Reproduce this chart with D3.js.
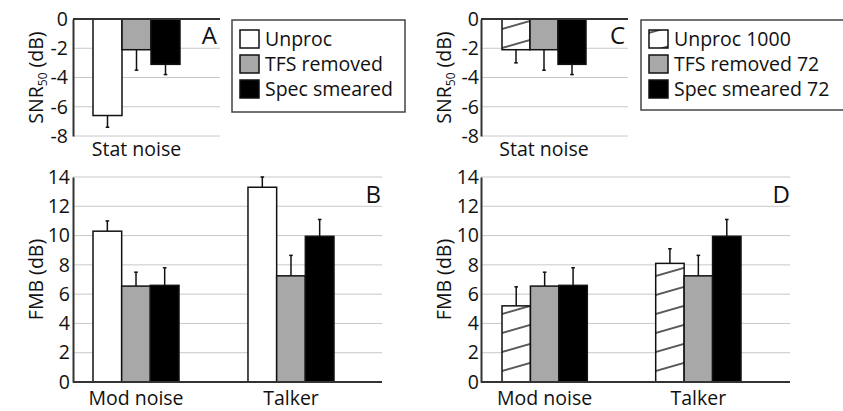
<!DOCTYPE html>
<html><head><meta charset="utf-8">
<script src="https://cdn.jsdelivr.net/npm/d3@7"></script>
<style>
body{margin:0;background:#fff;}
text{font-family:"Open Sans","Noto Sans",sans-serif;fill:#111;}
</style></head>
<body>
<svg id="c" width="843" height="411"></svg>
<script>
// ---- data ----
const seriesAB = ["Unproc", "TFS removed", "Spec smeared"];
const seriesCD = ["Unproc 1000", "TFS removed 72", "Spec smeared 72"];
const topCategories = ["Stat noise"];
const bottomCategories = ["Mod noise", "Talker"];
const snrTicks = [0, -2, -4, -6, -8];
const fmbTicks = [0, 2, 4, 6, 8, 10, 12, 14];

const snrA = [-6.6, -2.1, -3.1];
const snrAErr = [0.8, 1.4, 0.7];
const snrC = [-2.1, -2.1, -3.1];
const snrCErr = [0.9, 1.4, 0.7];

const fmbBMod = [10.3, 6.55, 6.6];
const fmbBModErr = [0.7, 0.95, 1.2];
const fmbBTalker = [13.3, 7.25, 9.95];
const fmbBTalkerErr = [0.7, 1.4, 1.15];

const fmbDMod = [5.2, 6.55, 6.6];
const fmbDModErr = [1.3, 0.95, 1.2];
const fmbDTalker = [8.1, 7.25, 9.95];
const fmbDTalkerErr = [1.0, 1.4, 1.15];

// ---- drawing ----
const svg = d3.select("#c");
const ink = "#111";
const fs = 19.5;
const fills = ["#ffffff", "#a8a8a8", "#000000"];
const defs = svg.append("defs");
const pat = defs.append("pattern").attr("id", "hatch").attr("patternUnits", "userSpaceOnUse")
  .attr("width", 40).attr("height", 19).attr("patternTransform", "skewY(-16)");
pat.append("rect").attr("width", 40).attr("height", 19).attr("fill", "#fff");
pat.append("line").attr("x1", 0).attr("x2", 40).attr("y1", 10).attr("y2", 10)
  .attr("stroke", "#222").attr("stroke-width", 1.3);

function fillFor(i, hatched) { return (i === 0 && hatched) ? "url(#hatch)" : fills[i]; }

function panel(opt) {
  const g = svg.append("g");
  const y = d3.scaleLinear().domain(opt.domain).range(opt.yRange);
  const x0 = d3.scaleBand().domain(opt.categories).range(opt.groupRange).paddingInner(opt.padInner || 0).paddingOuter(0);
  const x1 = d3.scaleBand().domain([0, 1, 2]).range([0, x0.bandwidth()]);
  // gridlines
  g.selectAll(".grid").data(opt.ticks.filter(t => t !== 0)).join("line")
    .attr("x1", opt.xLeft).attr("x2", opt.xRight)
    .attr("y1", d => y(d)).attr("y2", d => y(d))
    .attr("stroke", "#c8c8c8").attr("stroke-width", 1);
  // bars
  opt.categories.forEach((cat, ci) => {
    const vals = opt.values[ci], errs = opt.errors[ci];
    const gg = g.append("g").attr("transform", `translate(${x0(cat)},0)`);
    vals.forEach((v, i) => {
      const top = Math.min(y(v), y(0)), h = Math.abs(y(v) - y(0));
      const cx = x1(i) + x1.bandwidth() / 2;
      const ye = y(v + Math.sign(v) * errs[i]);
      gg.append("line").attr("x1", cx).attr("x2", cx).attr("y1", y(v)).attr("y2", ye)
        .attr("stroke", ink).attr("stroke-width", 1.5);
      gg.append("line").attr("x1", cx - 1.8).attr("x2", cx + 1.8).attr("y1", ye).attr("y2", ye)
        .attr("stroke", ink).attr("stroke-width", 1.5);
      gg.append("rect").attr("x", x1(i)).attr("y", top).attr("width", x1.bandwidth()).attr("height", h)
        .attr("fill", fillFor(i, opt.hatched)).attr("stroke", ink).attr("stroke-width", 1.5);
    });
    g.append("text").attr("x", x0(cat) + x0.bandwidth() / 2).attr("y", opt.catY)
      .attr("text-anchor", "middle").attr("font-size", fs).text(cat);
  });
  // axes lines
  g.append("line").attr("x1", opt.xLeft).attr("x2", opt.xRight).attr("y1", y(0)).attr("y2", y(0))
    .attr("stroke", "#333").attr("stroke-width", 2);
  const yAxis = d3.axisLeft(y).tickValues(opt.ticks).tickSize(0).tickPadding(opt.tickPad).tickFormat(d => String(d));
  const ax = g.append("g").attr("transform", `translate(${opt.xLeft},0)`).call(yAxis);
  ax.select(".domain").attr("stroke", "#333").attr("stroke-width", 2);
  ax.selectAll("text").attr("font-size", fs).attr("fill", ink)
    .style("font-family", '"Open Sans","Noto Sans",sans-serif');
  // y label
  const lab = g.append("text").attr("transform", `translate(${opt.labelX},${(opt.yRange[0] + opt.yRange[1]) / 2}) rotate(-90)`)
    .attr("text-anchor", "middle").attr("font-size", fs);
  if (opt.sub) {
    lab.append("tspan").text("SNR");
    lab.append("tspan").attr("font-size", 12).attr("dy", 4).text("50");
    lab.append("tspan").attr("dy", -4).text(" (dB)");
  } else {
    lab.text("FMB (dB)");
  }
  // panel letter
  g.append("text").attr("x", opt.letterX).attr("y", opt.letterY).attr("text-anchor", "end")
    .attr("font-size", 24).text(opt.letter);
}

function legend(x, yTop, w, h, names, hatched) {
  const g = svg.append("g");
  g.append("rect").attr("x", x).attr("y", yTop).attr("width", w).attr("height", h)
    .attr("fill", "#fff").attr("stroke", "#444").attr("stroke-width", 1.5);
  names.forEach((n, i) => {
    const cy = yTop + 18 + i * 25;
    g.append("rect").attr("x", x + 8).attr("y", cy - 8).attr("width", 19).attr("height", 18)
      .attr("fill", fillFor(i, hatched)).attr("stroke", ink).attr("stroke-width", 1.5);
    g.append("text").attr("x", x + 33).attr("y", cy + 8).attr("font-size", fs).text(n);
  });
}

panel({ domain: [-8, 0], yRange: [136, 19], ticks: snrTicks, categories: topCategories,
  groupRange: [93, 180], values: [snrA], errors: [snrAErr], xLeft: 73, xRight: 220,
  catY: 156, tickPad: 5, labelX: 43, sub: true, letter: "A", letterX: 217, letterY: 44, hatched: false });
panel({ domain: [-8, 0], yRange: [136, 19], ticks: snrTicks, categories: topCategories,
  groupRange: [502, 586], values: [snrC], errors: [snrCErr], xLeft: 481, xRight: 628,
  catY: 156, tickPad: 2, labelX: 451, sub: true, letter: "C", letterX: 625, letterY: 44, hatched: true });
panel({ domain: [0, 14], yRange: [382, 177], ticks: fmbTicks, categories: bottomCategories,
  groupRange: [93, 334], padInner: 0.445, values: [fmbBMod, fmbBTalker], errors: [fmbBModErr, fmbBTalkerErr],
  xLeft: 73, xRight: 382, catY: 405, tickPad: 3, labelX: 43, sub: false, letter: "B", letterX: 381, letterY: 203, hatched: false });
panel({ domain: [0, 14], yRange: [382, 177], ticks: fmbTicks, categories: bottomCategories,
  groupRange: [502, 741], padInner: 0.445, values: [fmbDMod, fmbDTalker], errors: [fmbDModErr, fmbDTalkerErr],
  xLeft: 481, xRight: 790, catY: 405, tickPad: 2, labelX: 451, sub: false, letter: "D", letterX: 790, letterY: 203, hatched: true });

legend(232, 20, 173, 92, seriesAB, false);
legend(641, 20, 210, 90, seriesCD, true);
</script>
</body></html>
